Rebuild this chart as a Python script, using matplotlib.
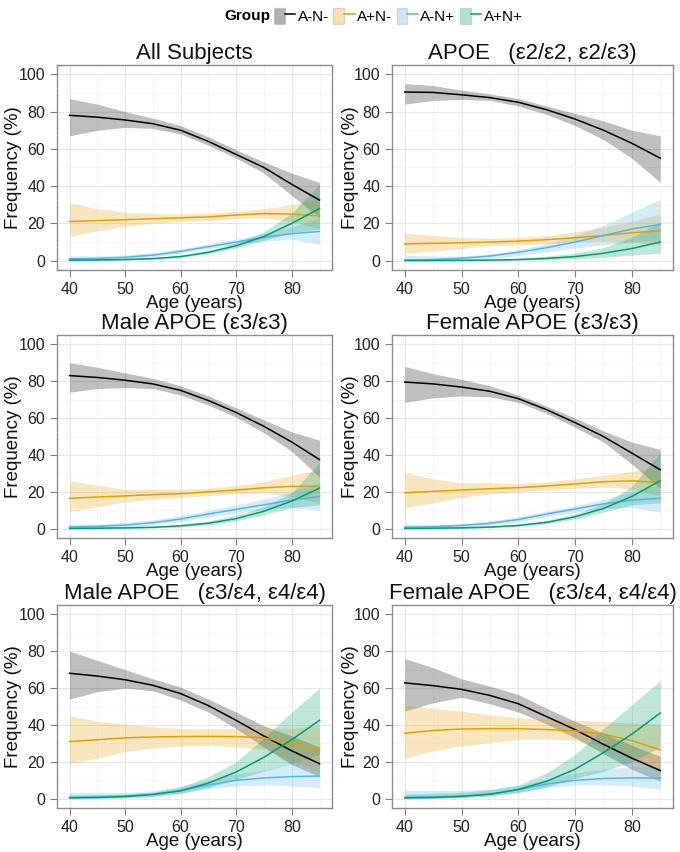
import numpy as np
import matplotlib.pyplot as plt
from matplotlib.patches import Patch
from matplotlib.lines import Line2D
from matplotlib.legend_handler import HandlerTuple
from matplotlib.ticker import MultipleLocator

plt.rcParams['font.family'] = ['Liberation Sans', 'DejaVu Sans']

age = [40, 45, 50, 55, 60, 65, 70, 75, 80, 85]
groups = ["A-N-", "A+N-", "A-N+", "A+N+"]
colors = ["#000000", "#E69F00", "#56B4E9", "#009E73"]
titles = ["All Subjects", "APOE   (ε2/ε2, ε2/ε3)", "Male APOE (ε3/ε3)",
          "Female APOE (ε3/ε3)", "Male APOE   (ε3/ε4, ε4/ε4)",
          "Female APOE   (ε3/ε4, ε4/ε4)"]

# rows: A-N-, A+N-, A-N+, A+N+
all_mid = [[78, 77, 75.5, 73.5, 70, 64, 57, 50, 41, 32.5],
           [21, 21.5, 22, 22.5, 23, 23.5, 24.5, 25.3, 25, 24],
           [1, 1.2, 1.8, 3, 5, 7.5, 10, 12.5, 14.5, 15.7],
           [0.3, 0.4, 0.6, 1.1, 2.2, 4.5, 8, 13, 20, 28]]
all_lo = [[67, 70, 71.5, 71, 68, 62, 55, 47, 35, 23],
          [13, 16, 18.5, 20, 21, 21.5, 22.5, 23, 21, 17],
          [0.2, 0.5, 1, 2, 4, 6.5, 8.5, 10.5, 11.5, 9],
          [0, 0.1, 0.3, 0.7, 1.6, 3.7, 6.8, 11, 15, 17]]
all_hi = [[87, 84, 80, 76.5, 72.5, 66.5, 59.5, 53, 47, 42],
          [31, 28, 26, 25.5, 25, 25.5, 26.5, 28, 30, 33],
          [2.5, 2.5, 3, 4.3, 6.3, 9, 11.5, 14.5, 18, 23],
          [1, 1, 1.1, 1.6, 2.9, 5.5, 9.5, 15.5, 25.5, 41]]

e2_mid = [[90.5, 90.3, 89, 87.5, 85, 81, 76, 70, 63, 55],
          [9, 9.3, 9.6, 10, 10.5, 11.3, 12.3, 13.5, 15, 16],
          [0.3, 0.6, 1.3, 2.5, 4.5, 7, 10, 13.5, 17, 19.5],
          [0.1, 0.1, 0.2, 0.3, 0.6, 1.2, 2.2, 4, 6.5, 10]]
e2_lo = [[84, 86, 86.5, 86, 83, 78.5, 72.5, 65, 55, 42],
         [4, 5, 6.5, 8, 8.5, 9, 10, 10.5, 10, 8.5],
         [0, 0, 0.3, 1, 2.8, 4.8, 6.7, 8.5, 10, 11],
         [0, 0, 0, 0.1, 0.2, 0.5, 1, 1.8, 3, 4]]
e2_hi = [[95, 94, 91.5, 89.5, 87, 83, 79, 75, 70, 67],
         [15, 13.5, 12.5, 12, 12.5, 13.5, 15.5, 18, 21, 25],
         [3, 2.5, 2.5, 3.5, 6, 9, 13.5, 19, 26, 33],
         [0.5, 0.5, 0.6, 0.8, 1.2, 2.5, 4, 7, 12.5, 21]]

m33_mid = [[83, 82, 80.5, 78.5, 75, 69.5, 63, 55.5, 47, 37.5],
           [16.5, 17.2, 17.8, 18.5, 19, 20, 21, 22.2, 23, 23],
           [1, 1.3, 2, 3.3, 5.3, 8, 10.5, 13, 15.5, 17.5],
           [0.2, 0.3, 0.5, 0.8, 1.6, 3, 5.5, 9.5, 15, 22]]
m33_lo = [[74, 76, 76.5, 76, 72.5, 67, 60.5, 52, 42, 28],
          [9.5, 12, 14.5, 16, 17, 18, 19, 19.5, 17.5, 14],
          [0, 0.4, 1, 2, 4, 6.3, 8.5, 10.5, 11.5, 10],
          [0, 0, 0.2, 0.4, 1, 2.2, 4.2, 7.5, 11.5, 13]]
m33_hi = [[90, 87.5, 84.5, 81.5, 77.5, 72, 65.5, 59, 52.5, 48],
          [26, 23.5, 21.5, 21.5, 21.5, 22, 23.5, 25.5, 29, 32],
          [2.5, 2.6, 3.5, 4.8, 7, 10, 13, 16, 20, 25],
          [0.8, 1, 1, 1.3, 2.3, 4.2, 7.3, 12, 19.5, 36]]

f33_mid = [[79.5, 78.5, 76.8, 74.5, 70.5, 64.5, 57.5, 50, 41, 32],
           [19.5, 20.3, 21, 21.7, 22.3, 23.2, 24.3, 25.5, 26, 25],
           [0.8, 1.1, 1.8, 3, 5, 8, 10.7, 13.5, 15.5, 16.5],
           [0.2, 0.3, 0.5, 0.9, 1.8, 3.5, 6.5, 11, 17.5, 26]]
f33_lo = [[68.5, 71, 72, 71.5, 68.5, 62.5, 55, 47, 35, 22],
          [11.5, 14, 17, 19, 20, 21, 22, 22.5, 21.5, 18],
          [0, 0.3, 0.8, 2, 3.8, 6.5, 9, 11, 11.5, 9],
          [0, 0, 0.2, 0.5, 1.2, 2.8, 5.2, 9, 13, 14]]
f33_hi = [[88, 84, 81, 77.5, 72.5, 66.5, 60, 53, 47, 43],
          [30.5, 27, 25, 25, 24.5, 25.5, 27, 29, 31, 34],
          [2.5, 2.3, 2.8, 4.3, 6.5, 9.5, 12.5, 16, 20, 24],
          [0.8, 0.9, 1, 1.5, 2.5, 4.5, 8, 13.5, 23, 41]]

m34_mid = [[68, 66.5, 64.5, 61.5, 57, 50.5, 42.5, 34, 26, 19],
           [31, 32, 33, 33.5, 33.7, 33.8, 33.7, 33, 30, 26.5],
           [0.8, 1, 1.5, 2.5, 4.5, 7.5, 10, 11.3, 12, 12.3],
           [0.5, 0.7, 1.2, 2.3, 4.3, 8.5, 14.5, 22.5, 32, 42.5]]
m34_lo = [[54, 58, 60, 58.5, 53.5, 47, 38, 28, 18.5, 12],
          [19, 22, 25.5, 27.5, 28.5, 29, 28, 27, 21, 14],
          [0, 0.2, 0.5, 1.3, 3, 5.5, 7, 7.5, 7, 6],
          [0, 0.2, 0.5, 1.3, 3, 6, 10.5, 15, 19, 24]]
m34_hi = [[80, 75, 70, 65, 60.5, 54, 47, 39.5, 34, 28],
          [45, 42, 40.5, 39, 38, 38, 38, 38.5, 38, 40],
          [3.5, 3.5, 3.5, 4.3, 6.8, 10, 13.5, 15.5, 19, 23],
          [2, 2.2, 2.5, 3.5, 6.3, 12, 20, 33, 47, 60]]

f34_mid = [[62.8, 61.3, 59.3, 56, 51.5, 44.5, 37.5, 29.5, 22, 15.3],
           [35.5, 37, 37.8, 38, 38, 37.5, 36.8, 35, 31.5, 26.5],
           [0.8, 1, 1.5, 2.5, 5, 8, 10, 11, 11.3, 11.2],
           [0.5, 0.7, 1.3, 2.5, 5, 9.5, 16, 25, 35, 46.5]]
f34_lo = [[47.5, 52, 55, 51.5, 47, 40.5, 33, 24.5, 16, 9.5],
          [22, 26, 28.5, 30.5, 32, 32.5, 31.5, 28.5, 22.5, 13.5],
          [0, 0.3, 0.7, 1.5, 3.5, 6, 7.5, 7.5, 7, 5],
          [0, 0.2, 0.6, 1.5, 3.2, 6.5, 11, 15, 20, 28]]
f34_hi = [[76, 71, 65, 61, 56.5, 49, 42, 35.5, 29, 23],
          [50.5, 49, 47.5, 45.5, 44, 43, 42.5, 42, 41, 40.5],
          [4.5, 4.5, 4.5, 5, 7, 10.5, 14, 16, 17.5, 17],
          [2.5, 3, 3.5, 5, 7.5, 14, 24, 38, 51, 64]]

panels = [(all_mid, all_lo, all_hi), (e2_mid, e2_lo, e2_hi),
          (m33_mid, m33_lo, m33_hi), (f33_mid, f33_lo, f33_hi),
          (m34_mid, m34_lo, m34_hi), (f34_mid, f34_lo, f34_hi)]

W, H = 680, 852
fig = plt.figure(figsize=(W / 100, H / 100), dpi=100)
lefts = [57, 392]
rights = [332, 673]
tops = [65, 335, 605]
bots = [270, 538, 808]
ylab_x = [14, 351]  # centre of y label, pixels

for i, (mid, lo, hi) in enumerate(panels):
    r, c = divmod(i, 2)
    w = rights[c] - lefts[c]
    ax = fig.add_axes([lefts[c] / W, 1 - bots[r] / H,
                       w / W, (bots[r] - tops[r]) / H])
    for k in range(4):
        ax.fill_between(age, lo[k], hi[k], color=colors[k], alpha=0.25, lw=0)
    for k in range(4):
        ax.plot(age, mid[k], color=colors[k], lw=1.1)
    ax.set_xlim(37.75, 87.25)
    ax.set_ylim(-5, 105)
    ax.set_xticks([40, 50, 60, 70, 80])
    ax.set_yticks([0, 20, 40, 60, 80, 100])
    ax.xaxis.set_minor_locator(MultipleLocator(5))
    ax.yaxis.set_minor_locator(MultipleLocator(10))
    ax.grid(True, which='major', color='#e8e8e8', lw=0.8)
    ax.grid(True, which='minor', color='#f4f4f4', lw=0.6)
    ax.set_axisbelow(True)
    ax.tick_params(which='major', length=5, color='#7f7f7f',
                   labelsize=11.5, labelcolor='#222222')
    ax.tick_params(which='minor', length=0)
    for s in ax.spines.values():
        s.set_color('#8c8c8c')
        s.set_linewidth(1.0)
    ax.set_xlabel("Age (years)", fontsize=13.5, labelpad=-1, color='#111111')
    ax.set_ylabel("Frequency (%)", fontsize=13.5, color='#111111',
                  va='center')
    ax.yaxis.set_label_coords((ylab_x[c] - lefts[c]) / w, 0.5)
    ax.set_title(titles[i], fontsize=16, pad=4, color='#111111')

# legend
handles = [(Patch(facecolor=col, alpha=0.3, edgecolor='#999999'),
            Line2D([], [], color=col, lw=1.1)) for col in colors]
fig.text(224 / W, 1 - 16 / H, "Group", fontsize=11, fontweight='bold',
         va='center', ha='left')
fig.legend(handles, groups, handler_map={tuple: HandlerTuple(ndivide=None)},
           loc='center left', bbox_to_anchor=(274 / W, 1 - 16 / H), ncol=4,
           frameon=False, fontsize=11, handlelength=1.4, handleheight=1.3,
           handletextpad=0.15, columnspacing=0.3, borderpad=0,
           borderaxespad=0)

fig.savefig("out.png", dpi=100)
